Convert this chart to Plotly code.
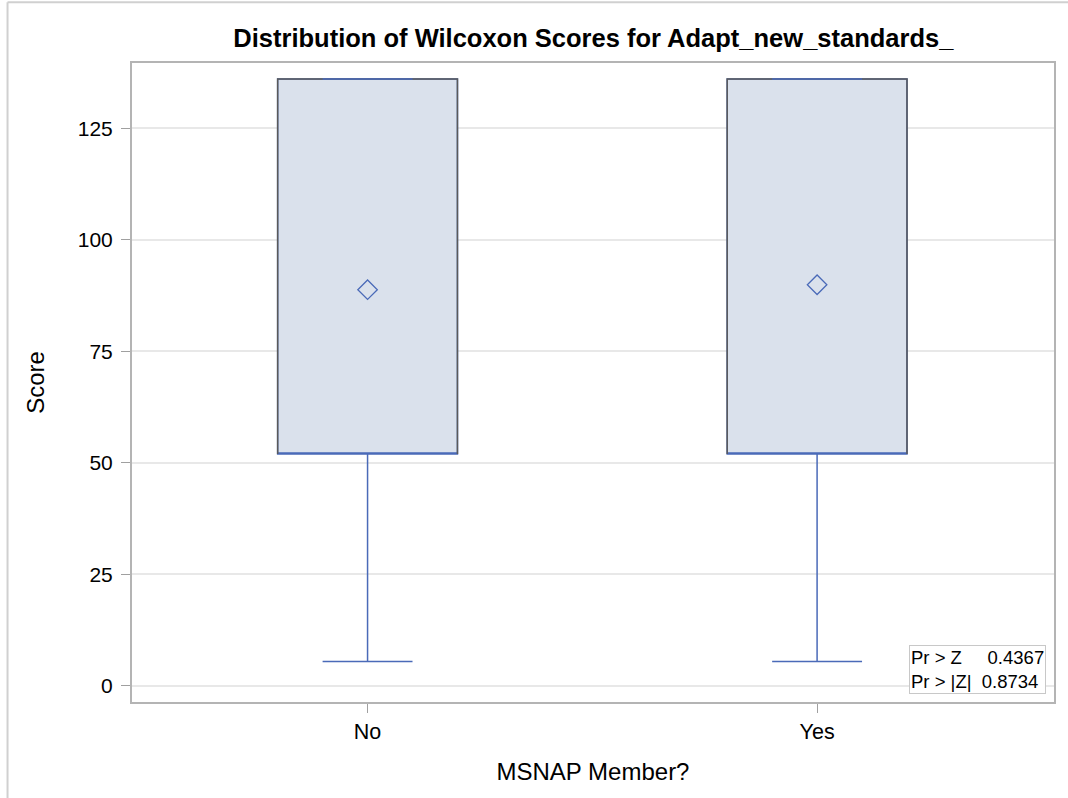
import plotly.graph_objects as go

# Wilcoxon score summary per group
groups = ["No", "Yes"]
score_min = [5.5, 5.5]
score_q1 = [52, 52]
score_median = [52, 52]
score_q3 = [136, 136]
score_max = [136, 136]
score_mean = [88.8, 89.9]

p_labels = ["Pr > Z", "Pr > |Z|"]
p_values = ["0.4367", "0.8734"]

y_ticks = [0, 25, 50, 75, 100, 125]

positions = list(range(len(groups)))
box_half = 0.2
cap_half = 0.1

blue = "#4A6AB8"
outline = "#5A5A5A"
fill = "#DAE1EC"
font = "Liberation Sans, Arial, sans-serif"

fig = go.Figure()

# main box: whiskers, median and fill
fig.add_trace(go.Box(
    x=positions,
    q1=score_q1, median=score_median, q3=score_q3,
    lowerfence=score_min, upperfence=score_max,
    width=2 * box_half, whiskerwidth=0.5,
    fillcolor=fill, line=dict(color=blue, width=1.5),
    boxpoints=False, showlegend=False, hoverinfo="skip",
))

# dark outline on the box sides and top
for xp, q1, q3, mx in zip(positions, score_q1, score_q3, score_max):
    fig.add_trace(go.Scatter(
        x=[xp - box_half, xp - box_half, xp + box_half, xp + box_half],
        y=[q1, q3, q3, q1],
        mode="lines", line=dict(color=outline, width=1.5),
        showlegend=False, hoverinfo="skip",
    ))
    # upper whisker cap sits on the box top
    fig.add_trace(go.Scatter(
        x=[xp - cap_half, xp + cap_half], y=[mx, mx],
        mode="lines", line=dict(color=blue, width=1.5),
        showlegend=False, hoverinfo="skip",
    ))

# group means
fig.add_trace(go.Scatter(
    x=positions, y=score_mean, mode="markers",
    marker=dict(symbol="diamond-open", size=15, color=blue, line=dict(width=1.3)),
    showlegend=False, hoverinfo="skip",
))

# p-value inset
inset_text = "<br>".join(
    f"{lab}{'&nbsp;' * (5 if lab == 'Pr > Z' else 2)}{val}" for lab, val in zip(p_labels, p_values)
)
fig.add_annotation(
    xref="paper", yref="paper", x=0.991, y=0.013, xanchor="right", yanchor="bottom",
    text=inset_text, showarrow=False, align="left",
    font=dict(family=font, size=18.5, color="#000"),
    bgcolor="white", bordercolor="#C8C8C8", borderwidth=1, borderpad=1,
)

fig.update_layout(
    width=1068, height=798,
    margin=dict(l=132, r=14, t=63, b=96),
    paper_bgcolor="white", plot_bgcolor="white",
    title=dict(
        text="<b>Distribution of Wilcoxon Scores for Adapt_new_standards_</b>",
        x=0.5556, xanchor="center", y=0.952, yanchor="middle",
        font=dict(family=font, size=25.5, color="#000"),
    ),
    xaxis=dict(
        range=[-0.524, 1.527],
        tickvals=positions, ticktext=groups,
        ticks="outside", ticklen=9, tickcolor="#A0A0A0", tickwidth=1,
        showgrid=False, zeroline=False,
        showline=True, linecolor="#B4B4B4", linewidth=2, mirror=True,
        tickfont=dict(family=font, size=21.5, color="#000"),
        title=dict(text="MSNAP Member?", font=dict(family=font, size=24, color="#000"), standoff=20),
    ),
    yaxis=dict(
        range=[-3.6, 139.6],
        tickvals=y_ticks,
        ticks="outside", ticklen=9, tickcolor="#A0A0A0", tickwidth=1,
        ticklabelstandoff=4,
        showgrid=True, gridcolor="#E8E8E8", gridwidth=1.5, zeroline=False,
        showline=True, linecolor="#B4B4B4", linewidth=2, mirror=True,
        tickfont=dict(family=font, size=21, color="#000"),
        title=dict(text="Score", font=dict(family=font, size=24, color="#000"), standoff=26),
    ),
    shapes=[
        dict(type="line", xref="paper", yref="paper", x0=-0.135, x1=1.02, y0=1.095, y1=1.095,
             line=dict(color="#D0D0D0", width=2)),
        dict(type="line", xref="paper", yref="paper", x0=-0.135, x1=-0.135, y0=-0.152, y1=1.095,
             line=dict(color="#D0D0D0", width=2)),
    ],
)

fig.write_html("out.html")
